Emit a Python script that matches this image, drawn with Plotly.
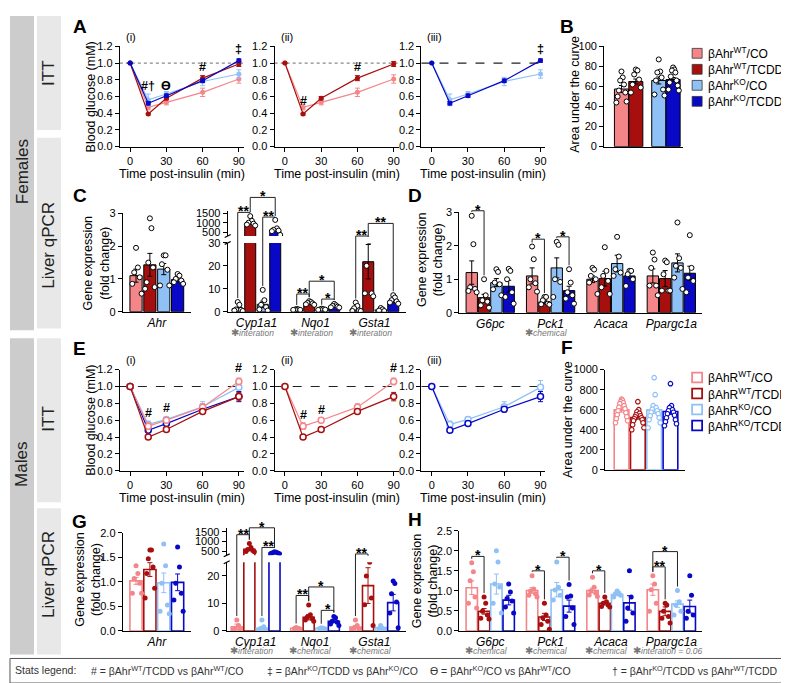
import plotly.graph_objects as go

W, H = 789, 683
FONT = "Arial, Liberation Sans, sans-serif"

# group colours: WT/CO, WT/TCDD, KO/CO, KO/TCDD
COLS = ["#f4868a", "#a70f0f", "#8fc1f6", "#0808c6"]

f_names = ["βAhr<sup>WT</sup>/CO", "βAhr<sup>WT</sup>/TCDD", "βAhr<sup>KO</sup>/CO", "βAhr<sup>KO</sup>/TCDD"]
m_names = ["βAhR<sup>WT</sup>/CO", "βAhR<sup>WT</sup>/TCDD", "βAhR<sup>KO</sup>/CO", "βAhR<sup>KO</sup>/TCDD"]

# ---------------- ITT (relative blood glucose) ----------------
itt_time = [0, 15, 30, 60, 90]
f_itt_mean = [[1.0, 0.47, 0.53, 0.65, 0.81],
              [1.0, 0.39, 0.58, 0.82, 0.99],
              [1.0, 0.56, 0.63, 0.78, 0.87],
              [1.0, 0.52, 0.61, 0.79, 1.03]]
f_itt_sem = [[0, 0.03, 0.03, 0.05, 0.05],
             [0, 0.01, 0.02, 0.03, 0.03],
             [0, 0.07, 0.03, 0.05, 0.05],
             [0, 0.02, 0.02, 0.02, 0.02]]
m_itt_mean = [[1.0, 0.53, 0.60, 0.755, 1.06],
              [1.0, 0.40, 0.49, 0.705, 0.88],
              [1.0, 0.55, 0.61, 0.76, 0.99],
              [1.0, 0.48, 0.56, 0.73, 0.88]]
m_itt_sem = [[0, 0.04, 0.03, 0.04, 0.04],
             [0, 0.02, 0.02, 0.02, 0.05],
             [0, 0.04, 0.03, 0.06, 0.08],
             [0, 0.02, 0.02, 0.03, 0.06]]

# ---------------- AUC ----------------
f_auc_mean = [57.5, 65, 66, 67]
f_auc_sem = [3.5, 2.5, 3.5, 2.0]
f_auc_dots = [[75, 69, 66, 62, 56, 54, 50, 45, 44],
              [77, 76, 72, 67, 62, 59, 54],
              [87, 75, 74, 69, 66, 57, 52, 51],
              [79, 77, 76, 74, 70, 66, 64, 61, 57, 56]]
m_auc_mean = [598, 523, 598, 582]
m_auc_sem = [22, 18, 35, 28]
m_auc_dots = [[705, 695, 680, 670, 660, 640, 625, 610, 590, 570, 550, 530, 510, 490, 470],
              [680, 600, 580, 565, 550, 540, 530, 520, 510, 500, 490, 470, 450, 420, 400],
              [920, 750, 640, 620, 605, 590, 575, 560, 540, 520, 500, 470, 420],
              [860, 640, 620, 600, 590, 575, 560, 545, 520, 500, 480, 460, 440]]

# ---------------- Female liver qPCR ----------------
c1_genes = ["Ahr"]
c1_mean = [[1.10, 1.43, 1.30, 0.98]]
c1_sem = [[0.20, 0.35, 0.17, 0.07]]
c1_dots = [[[1.95, 1.35, 1.2, 1.05, 0.85, 0.55], [2.85, 2.55, 1.5, 1.35, 0.9, 0.75, 0.7],
            [1.72, 1.72, 1.45, 1.28, 0.8, 0.8], [1.15, 1.1, 1.0, 0.95, 0.9, 0.85]]]

c2_genes = ["Cyp1a1", "Nqo1", "Gsta1"]
c2_mean = [[1.3, 980, 3.2, 610], [1.0, 3.8, 1.1, 2.4], [1.2, 21.8, 0.8, 4.5]]
c2_sem = [[0.5, 70, 1.4, 70], [0.1, 0.4, 0.1, 0.35], [0.6, 7.5, 0.3, 0.6]]
c2_dots = [[[4.2, 3.0, 1.0, 0.8, 0.5, 0.3], [1350, 1100, 1000, 950, 900, 850],
            [9.5, 5.0, 3.0, 2.0, 1.0, 0.5], [1150, 700, 620, 580, 550, 350]],
           [[1.2, 1.0, 0.9, 0.8, 0.8], [4.6, 4.2, 3.8, 3.6, 3.2, 3.0],
            [1.3, 1.1, 1.0, 0.9, 0.8], [3.4, 2.8, 2.5, 2.2, 1.9, 1.8]],
           [[4.0, 2.5, 1.5, 0.6, 0.3, 0.3], [31, 31, 20, 8, 8, 6.7],
            [1.6, 1.0, 0.5, 0.3], [7.2, 6.2, 5.0, 4.5, 4.0, 3.5]]]
c2_stats = ["interation", "interation", "interation"]

d_genes = ["G6pc", "Pck1", "Acaca", "Ppargc1a"]
d_mean = [[1.2, 0.45, 0.9, 0.79], [1.1, 0.32, 1.34, 0.66], [1.0, 1.02, 1.47, 1.1], [1.1, 1.02, 1.49, 1.18]]
d_sem = [[0.35, 0.1, 0.12, 0.18], [0.24, 0.04, 0.3, 0.13], [0.1, 0.22, 0.25, 0.08], [0.21, 0.24, 0.27, 0.21]]
d_dots = [[[2.9, 2.05, 0.76, 0.71, 0.65, 0.61], [1.0, 0.52, 0.37, 0.33, 0.22, 0.15],
           [1.3, 1.22, 0.9, 0.85, 0.7, 0.52], [1.31, 1.25, 1.0, 0.61, 0.47, 0.27]],
          [[1.98, 1.6, 1.0, 0.88, 0.76, 0.63], [0.47, 0.47, 0.37, 0.27, 0.25, 0.24],
           [2.12, 2.03, 1.0, 0.92, 0.47], [1.3, 0.9, 0.61, 0.52, 0.42, 0.27]],
          [[1.34, 1.29, 1.1, 1.0, 0.9, 0.56], [1.96, 1.25, 1.1, 0.95, 0.76, 0.56],
           [2.27, 1.68, 1.3, 1.2, 1.1], [1.25, 1.25, 1.15, 1.0, 0.8]],
          [[1.8, 1.59, 1.34, 0.81, 0.81, 0.52], [1.56, 1.51, 1.15, 0.66, 0.66, 0.66],
           [2.7, 1.63, 1.4, 1.34, 1.05, 0.71], [2.32, 1.34, 1.05, 0.95, 0.61]]]
d_stats = ["", "chemical", "", ""]

# ---------------- Male liver qPCR ----------------
g1_genes = ["Ahr"]
g1_mean = [[1.02, 1.25, 0.98, 0.99]]
g1_sem = [[0.07, 0.14, 0.2, 0.17]]
g1_dots = [[[1.33, 1.17, 1.07, 0.97, 0.77, 0.77], [1.65, 1.65, 1.47, 1.3, 1.17, 0.87, 0.67],
            [1.77, 1.33, 0.97, 0.53, 0.4, 0.35], [1.71, 1.3, 0.97, 0.77, 0.63, 0.4]]]

g2_genes = ["Cyp1a1", "Nqo1", "Gsta1"]
g2_mean = [[1.5, 600, 1.0, 420], [1.0, 5.0, 1.0, 3.5], [1.4, 16.5, 1.2, 10.3]]
g2_sem = [[1.0, 60, 0.5, 20], [0.1, 1.0, 0.1, 0.5], [0.6, 6.5, 0.5, 3.0]]
g2_dots = [[[4.0, 2.0, 1.0, 0.5, 0.3], [900, 700, 600, 550, 500, 480],
            [4.0, 1.5, 0.8, 0.5, 0.3], [480, 450, 430, 420, 400, 380]],
           [[1.3, 1.0, 0.9, 0.8], [9.4, 5.9, 5.0, 4.5, 4.0, 3.5],
            [1.2, 1.0, 0.9, 0.8], [5.3, 4.8, 3.5, 3.2, 2.5, 2.0]],
           [[4.0, 2.0, 1.0, 0.5, 0.3], [25.9, 25.0, 20.0, 12.0, 9.5, 2.0],
            [2.0, 1.0, 0.5, 0.3], [18.2, 17.3, 13.5, 10.5, 6.5, 1.2]]]
g2_stats = ["interation", "chemical", "chemical"]

h_genes = ["G6pc", "Pck1", "Acaca", "Ppargc1a"]
h_mean = [[1.08, 0.49, 1.17, 0.77], [1.01, 0.35, 1.03, 0.62], [1.01, 0.69, 0.91, 0.7], [1.03, 0.49, 0.67, 0.61]]
h_sem = [[0.17, 0.07, 0.25, 0.12], [0.07, 0.09, 0.18, 0.15], [0.06, 0.04, 0.03, 0.18], [0.14, 0.11, 0.08, 0.16]]
h_dots = [[[1.7, 1.48, 1.25, 0.85, 0.69, 0.57], [0.85, 0.69, 0.49, 0.4, 0.32, 0.3],
           [2.0, 1.72, 1.17, 1.1, 0.69, 0.45], [1.17, 0.97, 0.81, 0.75, 0.6, 0.45]],
          [[1.38, 1.05, 1.0, 0.93, 0.89, 0.85], [0.69, 0.4, 0.33, 0.24, 0.16, 0.04],
           [1.72, 1.09, 1.02, 0.89, 0.77], [1.16, 0.87, 0.85, 0.57, 0.36, 0.16]],
          [[1.34, 1.09, 1.0, 0.95, 0.9, 0.86], [0.85, 0.73, 0.69, 0.65, 0.61, 0.6],
           [1.0, 0.95, 0.93, 0.89, 0.85], [1.5, 0.85, 0.57, 0.45, 0.24]],
          [[1.38, 1.17, 1.03, 0.69, 0.49], [0.69, 0.65, 0.49, 0.36, 0.32, 0.2],
           [1.01, 0.73, 0.65, 0.49, 0.4], [1.38, 0.89, 0.49, 0.4, 0.32]]]
h_stats = ["chemical", "chemical", "chemical", "interation = 0.06"]

fig = go.Figure()
GEO = {}
AXID = {}
BASE = dict(showgrid=False, zeroline=False, showline=True, linecolor="black", linewidth=1.2,
            ticks="outside", ticklen=4, tickwidth=1.2, tickcolor="black",
            tickfont=dict(size=11, color="black", family=FONT), fixedrange=True)


def add_axes(name, xpx, ypx, xr, yr, xa=None, ya=None):
    n = len(AXID) + 1
    s = "" if n == 1 else str(n)
    AXID[name] = s
    GEO[name] = (xpx, ypx, xr, yr)
    x = dict(BASE, domain=[xpx[0] / W, xpx[1] / W], range=xr, anchor="y" + s)
    y = dict(BASE, domain=[1 - ypx[1] / H, 1 - ypx[0] / H], range=yr, anchor="x" + s)
    x.update(xa or {})
    y.update(ya or {})
    fig.update_layout({"xaxis" + s: x, "yaxis" + s: y})


def X(p):
    return p / W


def Y(p):
    return 1 - p / H


def xp(name, v):
    (x0, x1), _, xr, _ = GEO[name]
    return x0 + (v - xr[0]) / (xr[1] - xr[0]) * (x1 - x0)


def yp(name, v):
    _, (y0, y1), _, yr = GEO[name]
    return y1 - (v - yr[0]) / (yr[1] - yr[0]) * (y1 - y0)


def ymapper(bottom, top=None):
    def f(v):
        if top is not None and v >= GEO[top][3][0]:
            return yp(top, v)
        return yp(bottom, v)
    return f


def text(x, y, t, size=12, **kw):
    d = dict(x=X(x), y=Y(y), xref="paper", yref="paper", text=t, showarrow=False,
             xanchor="center", yanchor="middle", borderpad=0,
             font=dict(size=size, family=FONT, color=kw.pop("color", "black")))
    d.update(kw)
    fig.add_annotation(**d)


# ---------------- axes ----------------
itt_x = dict(range=[-8.5, 94], tickvals=[0, 30, 60, 90])
itt_y = dict(tickvals=[0, 0.2, 0.4, 0.6, 0.8, 1.0, 1.2], tickformat=".1f")
for nm, xx, yy in [("Ai", (112, 236), (33, 135)), ("Aii", (267, 391), (33, 135)), ("Aiii", (414, 538), (33, 135)),
                   ("Ei", (112, 236), (362, 465)), ("Eii", (267, 391), (362, 465)), ("Eiii", (414, 538), (362, 465))]:
    add_axes(nm, xx, yy, [-8.5, 94], [0, 1.2], itt_x, itt_y)

noxt = dict(ticks="", showticklabels=False)
add_axes("B", (597, 676), (33, 135), [-1.2, 4.3], [0, 100], noxt, dict(dtick=20))
add_axes("F", (598, 678), (362, 464), [-1.0, 3.9], [0, 1000], noxt, dict(dtick=200))

P2 = 4.72   # group pitch (bar units) for 3-gene panels
P4 = 4.9    # group pitch for 4-gene panels
OFF = [-1.5, -0.5, 0.5, 1.5]


def gene_ticks(genes, pitch):
    return dict(ticks="", tickvals=[g * pitch for g in range(len(genes))],
                ticktext=["<i>%s</i>" % g for g in genes], tickfont=dict(size=12, family=FONT, color="black"))


add_axes("C1", (115, 183), (203, 303), [-2.45, 2.45], [0, 3], gene_ticks(c1_genes, 1), dict(dtick=1))
add_axes("C2t", (220, 399), (201, 226), [-2.3, 12.0], [290, 1600], dict(showline=False, **noxt), dict(tickvals=[500, 1000, 1500]))
add_axes("C2b", (220, 399), (233, 303), [-2.3, 12.0], [0, 30], gene_ticks(c2_genes, P2), dict(dtick=10))
add_axes("D", (452, 695), (202, 304), [-2.5, 17.2], [0, 3], gene_ticks(d_genes, P4), dict(dtick=1))
add_axes("G1", (115, 183), (528, 628), [-2.45, 2.45], [0, 2], gene_ticks(g1_genes, 1), dict(dtick=0.5, tickformat=".1f"))
add_axes("G2t", (219, 399), (523, 551), [-2.3, 12.0], [300, 1700], dict(showline=False, **noxt), dict(tickvals=[500, 1000, 1500]))
add_axes("G2b", (219, 399), (558, 628), [-2.3, 12.0], [0, 25], gene_ticks(g2_genes, P2), dict(tickvals=[0, 10, 20]))
add_axes("H", (452, 695), (526, 628), [-2.5, 17.2], [0, 2.5], gene_ticks(h_genes, P4), dict(dtick=0.5, tickformat=".1f"))


# ---------------- ITT curves ----------------
def draw_itt(name, means, sems, idx, hollow, ref_dash, ref_col):
    s = AXID[name]
    fig.add_shape(type="line", xref="x%s domain" % s, yref="y" + s, x0=0, x1=1, y0=1, y1=1,
                  line=dict(color=ref_col, width=1.2, dash=ref_dash), layer="below")
    for i in idx:
        c = COLS[i]
        fig.add_trace(go.Scatter(
            x=itt_time, y=means[i], mode="lines+markers", line=dict(color=c, width=1.2),
            marker=dict(symbol="circle", size=6 if hollow else 5, color="white" if hollow else c,
                        line=dict(color=c, width=1.5 if hollow else 0)),
            error_y=dict(type="data", array=sems[i], color=c, thickness=1, width=2.5),
            xaxis="x" + s, yaxis="y" + s, showlegend=False, hoverinfo="skip"))


draw_itt("Ai", f_itt_mean, f_itt_sem, [0, 2, 1, 3], False, "dot", "#888888")
draw_itt("Aii", f_itt_mean, f_itt_sem, [0, 1], False, "dot", "#888888")
draw_itt("Aiii", f_itt_mean, f_itt_sem, [2, 3], False, "dash", "#222222")
draw_itt("Ei", m_itt_mean, m_itt_sem, [2, 3, 0, 1], True, "dash", "#222222")
draw_itt("Eii", m_itt_mean, m_itt_sem, [0, 1], True, "dash", "#222222")
draw_itt("Eiii", m_itt_mean, m_itt_sem, [2, 3], True, "dash", "#222222")

itt_marks = [("Ai", 15, 0.73, "#†"), ("Ai", 30, 0.73, "ϴ"), ("Ai", 60, 0.95, "#"), ("Ai", 90, 1.17, "‡"),
             ("Aii", 15, 0.55, "#"), ("Aii", 60, 0.95, "#"), ("Aiii", 90, 1.17, "‡"),
             ("Ei", 15, 0.69, "#"), ("Ei", 30, 0.75, "#"), ("Ei", 90, 1.22, "#"),
             ("Eii", 15, 0.66, "#"), ("Eii", 30, 0.72, "#"), ("Eii", 90, 1.22, "#")]
for nm, t, v, lab in itt_marks:
    text(xp(nm, t), yp(nm, v), "<b>%s</b>" % lab, size=12.5)

for nm in ["Ai", "Aii", "Aiii", "Ei", "Eii", "Eiii"]:
    (x0, x1), (y0, y1), _, _ = GEO[nm]
    text((x0 + x1) / 2, y1 + 28, "Time post-insulin (min)", size=12.5)
    text(x0 + 5, y0 - 10, "(%s)" % nm[1:], size=11, xanchor="left")
text(83, 84, "Blood glucose (mM)", size=12.5, textangle=-90)
text(83, 413, "Blood glucose (mM)", size=12.5, textangle=-90)


# ---------------- bars + dots ----------------
def spread(vals, center, step):
    order = sorted(range(len(vals)), key=lambda i: -vals[i])
    xs = [0] * len(vals)
    for r, i in enumerate(order):
        m = (r + 1) // 2 * (1 if r % 2 else -1)
        xs[i] = center + m * step
    return xs


def draw_bars(names, means, sems, dots, pos, style, width=0.88):
    for nm in names:
        s = AXID[nm]
        for k in range(4):
            c = COLS[k]
            xs = [pos(g, k) for g in range(len(means))]
            if style == "filled":
                mk = dict(color=c, line=dict(color="black", width=1))
                ec = "black"
            else:
                mk = dict(color="white", line=dict(color=c, width=1.6))
                ec = c
            fig.add_trace(go.Bar(x=xs, y=[m[k] for m in means], width=width, marker=mk,
                                 error_y=dict(type="data", array=[e[k] for e in sems], color=ec, thickness=1, width=2.5),
                                 xaxis="x" + s, yaxis="y" + s, showlegend=False, hoverinfo="skip"))
            dx, dy = [], []
            for g in range(len(means)):
                v = dots[g][k]
                step = min(0.14, 0.8 / len(v))
                dx += spread(v, xs[g], step)
                dy += v
            if style == "filled":
                dm = dict(size=5, color="white", line=dict(color="black", width=1))
            elif style == "open":
                dm = dict(size=4.5, color="white", line=dict(color=c, width=1.2))
            else:
                dm = dict(size=5, color=c, line=dict(width=0))
            fig.add_trace(go.Scatter(x=dx, y=dy, mode="markers", marker=dm, xaxis="x" + s, yaxis="y" + s,
                                     showlegend=False, hoverinfo="skip"))


def grp(pitch):
    return lambda g, k: g * pitch + OFF[k]


draw_bars(["B"], [f_auc_mean], [f_auc_sem], [f_auc_dots], lambda g, k: [0, 1, 2.6, 3.6][k], "filled", 0.98)
draw_bars(["F"], [m_auc_mean], [m_auc_sem], [m_auc_dots], lambda g, k: k, "open", 0.9)
draw_bars(["C1"], c1_mean, c1_sem, c1_dots, grp(1), "filled")
draw_bars(["C2t", "C2b"], c2_mean, c2_sem, c2_dots, grp(P2), "filled")
draw_bars(["D"], d_mean, d_sem, d_dots, grp(P4), "filled", 0.92)
draw_bars(["G1"], g1_mean, g1_sem, g1_dots, grp(1), "solid")
draw_bars(["G2t", "G2b"], g2_mean, g2_sem, g2_dots, grp(P2), "solid")
draw_bars(["H"], h_mean, h_sem, h_dots, grp(P4), "solid", 0.92)


# ---------------- significance brackets ----------------
def draw_brackets(name, ymap, specs, means, sems, dots, pitch):
    for g, a, b, level, lab in specs:
        xa = xp(name, g * pitch + OFF[a])
        xb = xp(name, g * pitch + OFF[b])
        yl = ymap(level)
        ta = max(ymap(max(means[g][a] + sems[g][a], max(dots[g][a]))) - 4, yl)
        tb = max(ymap(max(means[g][b] + sems[g][b], max(dots[g][b]))) - 4, yl)
        path = "M%f,%f L%f,%f L%f,%f L%f,%f" % (X(xa), Y(ta), X(xa), Y(yl), X(xb), Y(yl), X(xb), Y(tb))
        fig.add_shape(type="path", path=path, xref="paper", yref="paper", line=dict(color="#222222", width=1))
        text((xa + xb) / 2, yl - 1, "<b>%s</b>" % lab, size=14)


draw_brackets("C2b", ymapper("C2b", "C2t"),
              [(0, 0, 1, 1550, "**"), (0, 2, 3, 1300, "**"), (0, 1, 3, 2350, "*"),
               (1, 0, 1, 7.7, "**"), (1, 2, 3, 5.5, "*"), (1, 1, 3, 13.3, "*"),
               (2, 0, 1, 33, "**"), (2, 1, 3, 38.5, "**")], c2_mean, c2_sem, c2_dots, P2)
draw_brackets("D", ymapper("D"), [(0, 0, 1, 3.05, "*"), (1, 0, 1, 2.2, "*"), (1, 2, 3, 2.27, "*")],
              d_mean, d_sem, d_dots, P4)
draw_brackets("G2b", ymapper("G2b", "G2t"),
              [(0, 0, 1, 1350, "**"), (0, 2, 3, 700, "**"), (0, 1, 3, 1700, "*"),
               (1, 0, 1, 12.9, "**"), (1, 2, 3, 7.5, "*"), (1, 1, 3, 16, "*"),
               (2, 0, 1, 28, "**")], g2_mean, g2_sem, g2_dots, P2)
draw_brackets("H", ymapper("H"), [(0, 0, 1, 1.86, "*"), (1, 0, 1, 1.5, "*"), (1, 2, 3, 1.84, "*"),
                                  (2, 0, 1, 1.5, "*"), (3, 0, 1, 1.6, "**"), (3, 0, 2, 1.98, "*")],
              h_mean, h_sem, h_dots, P4)

# axis break marks
for top, bot in [("C2t", "C2b"), ("G2t", "G2b")]:
    ax = GEO[bot][0][0]
    yb = GEO[bot][1][0]
    yt = GEO[top][1][1]
    for yy in (yt, yb):
        fig.add_shape(type="line", xref="paper", yref="paper", x0=X(ax - 3), x1=X(ax + 3), y0=Y(yy + 1.5), y1=Y(yy - 1.5),
                      line=dict(color="black", width=1.2))


# stats notes under gene labels
def stat_notes(name, notes, pitch, ypix):
    for g, n in enumerate(notes):
        if n:
            text(xp(name, g * pitch) - 4, ypix,
                 "<span style='font-size:10px'>✱</span><i>%s</i>" % n, size=8.5, color="#777777")


stat_notes("C2b", c2_stats, P2, 324)
stat_notes("D", d_stats, P4, 324)
stat_notes("G2b", g2_stats, P2, 648)
stat_notes("H", h_stats, P4, 648)

# axis titles
text(88, 253, "Gene expression<br>(fold change)", size=12.5, textangle=-90)
text(422, 250, "Gene expression<br>(fold change)", size=12.5, textangle=-90)
text(80, 575, "Gene expression<br>(fold change)", size=12.5, textangle=-90)
text(417, 577, "Gene expression<br>(fold change)", size=12.5, textangle=-90)
text(567, 82, "Area under the curve", size=12.5, textangle=-90)
text(560, 413, "Area under the curve", size=12.5, textangle=-90)

# panel letters
for lab, x, y in [("A", 72, 13), ("B", 560, 13), ("C", 72, 185), ("D", 408, 185),
                  ("E", 72, 340), ("F", 560, 339), ("G", 72, 517), ("H", 408, 515)]:
    text(x, y, "<b>%s</b>" % lab, size=19)

# legends
for i in range(4):
    yc = 40 + i * 16.3
    fig.add_shape(type="rect", xref="paper", yref="paper", x0=X(685), x1=X(695), y0=Y(yc + 5), y1=Y(yc - 5),
                  fillcolor=COLS[i], line=dict(color="#333333", width=0.8))
    text(700, yc, f_names[i], size=12, xanchor="left")
    yc = 370 + i * 16.3
    fig.add_shape(type="rect", xref="paper", yref="paper", x0=X(685), x1=X(695), y0=Y(yc + 5), y1=Y(yc - 5),
                  fillcolor="white", line=dict(color=COLS[i], width=1.8))
    text(700, yc, m_names[i], size=12, xanchor="left")

# side labels
for x0, x1, y0, y1, col in [(2, 26, 2, 322, "#cccccc"), (29, 53, 2, 118, "#e8e8e8"), (29, 53, 126, 320, "#e8e8e8"),
                            (2, 26, 330, 652, "#cccccc"), (29, 53, 330, 497, "#e8e8e8"), (29, 53, 503, 652, "#e8e8e8")]:
    fig.add_shape(type="rect", xref="paper", yref="paper", x0=X(x0), x1=X(x1), y0=Y(y1), y1=Y(y0),
                  fillcolor=col, line=dict(width=0), layer="below")
for t, x, y in [("Females", 14, 160), ("ITT", 41, 60), ("Liver qPCR", 41, 235),
                ("Males", 14, 458), ("ITT", 41, 412), ("Liver qPCR", 41, 570)]:
    text(x, y, t, size=17, textangle=-90, color="#222222")

# stats legend box
fig.add_shape(type="rect", xref="paper", yref="paper", x0=X(2), x1=X(787), y0=Y(681), y1=Y(656),
              line=dict(color="#555555", width=1), fillcolor="rgba(0,0,0,0)")
for t, x in [("Stats legend:", 6),
             ("# = βAhr<sup>WT</sup>/TCDD vs βAhr<sup>WT</sup>/CO", 82),
             ("‡ = βAhr<sup>KO</sup>/TCDD vs βAhr<sup>KO</sup>/CO", 258),
             ("ϴ = βAhr<sup>KO</sup>/CO vs βAhr<sup>WT</sup>/CO", 422),
             ("† = βAhr<sup>KO</sup>/TCDD vs βAhr<sup>WT</sup>/TCDD", 604)]:
    text(x, 668, t, size=10.5, xanchor="left", color="#333333")

fig.update_layout(width=W, height=H, margin=dict(l=0, r=0, t=0, b=0), barmode="overlay",
                  plot_bgcolor="white", paper_bgcolor="white", font=dict(family=FONT, color="black"),
                  showlegend=False)
fig.write_html("out.html")
